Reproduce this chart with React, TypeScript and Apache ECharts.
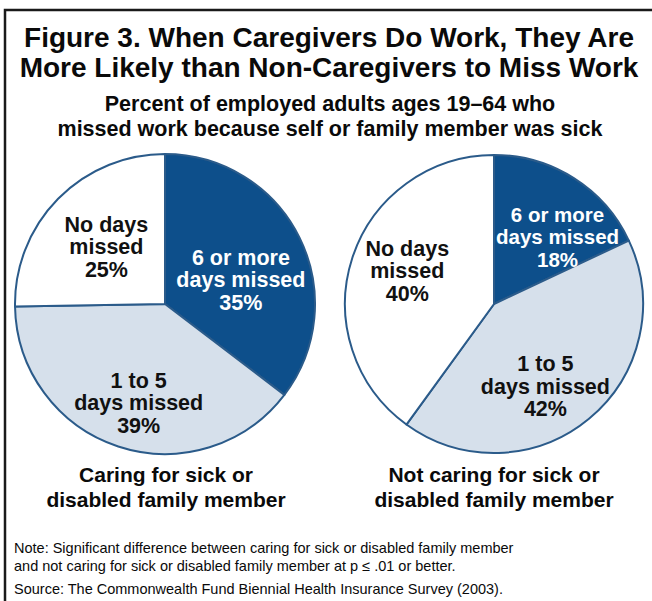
import React, { useEffect, useRef } from "react";
import * as echarts from "echarts";

const categories = ["6 or more days missed", "1 to 5 days missed", "No days missed"];
const sliceLabels = ["6 or more\ndays missed", "1 to 5\ndays missed", "No days\nmissed"];
const caringValues = [35, 39, 25];
const notCaringValues = [18, 42, 40];
const groupLabels = [
  "Caring for sick or\ndisabled family member",
  "Not caring for sick or\ndisabled family member",
];
const titleText = "Figure 3. When Caregivers Do Work, They Are\nMore Likely than Non-Caregivers to Miss Work";
const subtitleText = "Percent of employed adults ages 19\u201364 who\nmissed work because self or family member was sick";
const noteText =
  "Note: Significant difference between caring for sick or disabled family member\nand not caring for sick or disabled family member at p \u2264 .01 or better.";
const sourceText = "Source: The Commonwealth Fund Biennial Health Insurance Survey (2003).";

const FONT = "'Liberation Sans', Arial, Helvetica, sans-serif";
const sliceColors = ["#0d4f8b", "#d6e0eb", "#ffffff"];
const labelColors = ["#ffffff", "#111111", "#111111"];
const labelNudge = [
  [[6, 11], [-2, 25], [-3, -2]],
  [[22, -2], [2, 23], [-13, -9]],
];
const labelSizes = [
  [21.5, 21.5, 21.5],
  [20.5, 21.5, 21.5],
];

export default function App() {
  const ref = useRef<HTMLDivElement>(null);
  useEffect(() => {
    document.body.style.margin = "0";
    const chart = echarts.init(ref.current!, null, { renderer: "svg" });
    const mkSeries = (values: number[], center: number[], radius: number, si: number) => ({
      type: "pie",
      center,
      radius,
      startAngle: 90,
      clockwise: true,
      silent: true,
      emphasis: { disabled: true },
      itemStyle: { borderColor: "#2b5b8a", borderWidth: 2 },
      label: {
        show: true,
        position: "inside",
        formatter: (p: any) => `${sliceLabels[p.dataIndex]}\n${p.value}%`,
        fontFamily: FONT,
        fontWeight: "bold",
        fontSize: 21.5,
        lineHeight: 22.5,
        align: "center",
      },
      labelLine: { show: false },
      labelLayout: (p: any) => ({ dx: labelNudge[si][p.dataIndex][0], dy: labelNudge[si][p.dataIndex][1] }),
      data: values.map((v, i) => ({
        name: categories[i],
        value: v,
        itemStyle: { color: sliceColors[i] },
        label: { color: labelColors[i], fontSize: labelSizes[si][i] },
      })),
    });
    const txt = (text: string, x: number, y: number, size: number, lh: number, weight: string, align = "center") => ({
      type: "text",
      x,
      y,
      silent: true,
      style: {
        text,
        fill: "#0a0a0a",
        fontFamily: FONT,
        fontSize: size,
        fontWeight: weight,
        lineHeight: lh,
        textAlign: align,
        textVerticalAlign: "top",
      },
    });
    chart.setOption({
      animation: false,
      backgroundColor: "#ffffff",
      series: [
        mkSeries(caringValues, [165, 304], 150, 0),
        mkSeries(notCaringValues, [494, 304], 149, 1),
      ],
      graphic: [
        {
          type: "polyline",
          silent: true,
          shape: { points: [[5, 601], [5, 10], [652, 10]] },
          style: { stroke: "#1a1a1a", lineWidth: 2.5, fill: null },
        },
        txt(titleText, 329, 22, 28, 30, "bold"),
        txt(subtitleText, 330, 91, 21.5, 25, "bold"),
        txt(groupLabels[0], 166, 462, 21, 25, "bold"),
        txt(groupLabels[1], 494, 462, 21, 25, "bold"),
        txt(noteText, 14, 539, 14.5, 18, "normal", "left"),
        txt(sourceText, 14, 580, 14.5, 18, "normal", "left"),
      ],
    });
    return () => chart.dispose();
  }, []);
  return <div ref={ref} style={{ width: 652, height: 601 }} />;
}
